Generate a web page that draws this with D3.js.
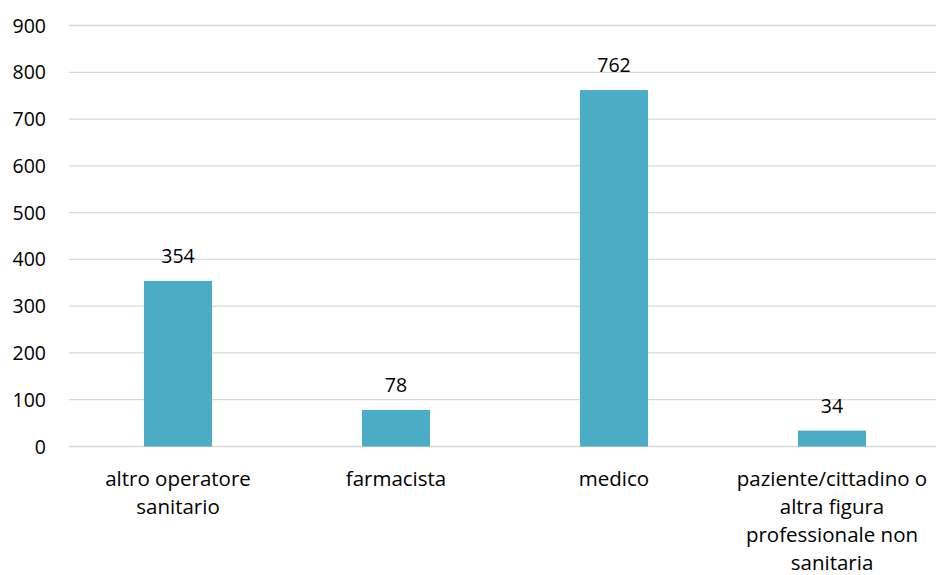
<!DOCTYPE html>
<html><head><meta charset="utf-8">
<script src="https://cdn.jsdelivr.net/npm/d3@7"></script>
<style>body{margin:0;background:#fff}svg{display:block}text{font-family:"Open Sans",sans-serif;fill:#000}</style>
</head><body><svg id="c" width="936" height="575"></svg>
<script>
const categories = ["altro operatore sanitario","farmacista","medico","paziente/cittadino o altra figura professionale non sanitaria"];
const categoryLines = [["altro operatore","sanitario"],["farmacista"],["medico"],["paziente/cittadino o","altra figura","professionale non","sanitaria"]];
const values = [354,78,762,34];
const yTicks = [0,100,200,300,400,500,600,700,800,900];

const svg = d3.select("#c");
const x = d3.scaleBand().domain(categories).range([69,941]).padding(0);
const y = d3.scaleLinear().domain([0,900]).range([446.5,25.5]);
const barW = x.bandwidth()*0.312;

svg.append("g").selectAll("line").data(yTicks).join("line")
  .attr("x1",69).attr("x2",936).attr("y1",d=>y(d)).attr("y2",d=>y(d))
  .attr("stroke","#d9d9d9").attr("stroke-width",1.3);

svg.append("g").selectAll("text").data(yTicks).join("text")
  .attr("x",46).attr("y",d=>y(d)).attr("dy","0.36em").attr("text-anchor","end")
  .attr("font-size",19.5).text(d=>d);

svg.append("g").selectAll("rect").data(values).join("rect")
  .attr("x",(d,i)=>x(categories[i])+x.bandwidth()/2-barW/2)
  .attr("width",barW)
  .attr("y",d=>y(d)).attr("height",d=>y(0)-y(d))
  .attr("fill","#4bacc6");

svg.append("g").selectAll("text").data(values).join("text")
  .attr("x",(d,i)=>x(categories[i])+x.bandwidth()/2)
  .attr("y",d=>y(d)-18).attr("text-anchor","middle")
  .attr("font-size",19.5).text(d=>d);

const xl = svg.append("g");
categories.forEach((c,i)=>{
  const t = xl.append("text").attr("text-anchor","middle").attr("font-size",20.5);
  categoryLines[i].forEach((ln,j)=>{
    t.append("tspan").attr("x",x(c)+x.bandwidth()/2).attr("y",486+j*28).text(ln);
  });
});
</script></body></html>
